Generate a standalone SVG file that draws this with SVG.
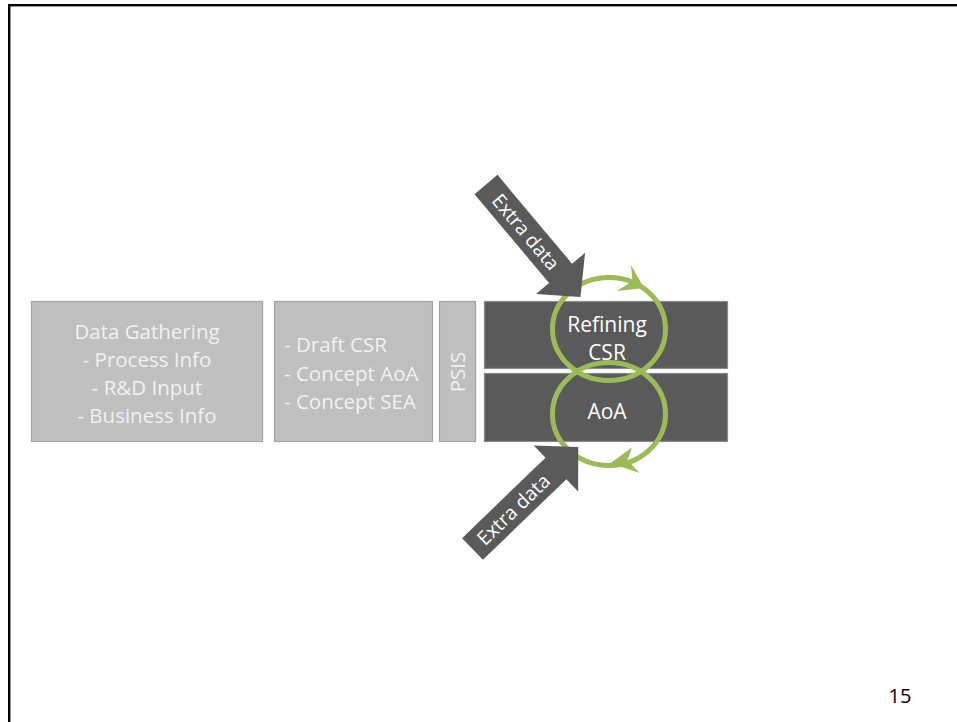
<svg xmlns="http://www.w3.org/2000/svg" width="957" height="722" viewBox="0 0 957 722">
  <defs>
    <style>
      .lbl { font-family: "Open Sans", "Liberation Sans", sans-serif; }
      .light-box { fill: #bfbfbf; stroke: #a3a3a3; stroke-width: 1.2; }
      .light-txt { fill: #f2f2f2; font-size: 20.5px; }
      .dark-box { fill: #5a5a5a; stroke: #8a8a8a; stroke-width: 1.2; }
      .dark-txt { fill: #ffffff; font-size: 21px; text-anchor: middle; }
      .loop { fill: none; stroke: #9bbb59; stroke-width: 5; }
      .loop-head { fill: #9bbb59; }
      .block-arrow { fill: #5a5a5a; }
      .arrow-txt { fill: #ffffff; font-size: 19.5px; text-anchor: middle; }
    </style>
    <!-- block arrow drawn along +x from its tail centre -->
    <polygon id="block-arrow-shape" points="0,-15 116,-15 116,-32 147,0 116,32 116,15 0,15"/>
  </defs>

  <!-- page -->
  <rect x="0" y="0" width="957" height="722" fill="#ffffff"/>
  <rect x="9.2" y="5.2" width="1000" height="800" fill="none" stroke="#000000" stroke-width="2.4"/>

  <!-- process stages -->
  <g id="data-gathering" class="lbl">
    <rect class="light-box" x="31.5" y="301.5" width="231" height="140"/>
    <g class="light-txt" text-anchor="middle">
      <text x="147" y="339">Data Gathering</text>
      <text x="147" y="367">- Process Info</text>
      <text x="147" y="395">- R&amp;D Input</text>
      <text x="147" y="423">- Business Info</text>
    </g>
  </g>

  <g id="concepts" class="lbl">
    <rect class="light-box" x="274.5" y="301.5" width="158" height="140"/>
    <g class="light-txt">
      <text x="284" y="352">- Draft CSR</text>
      <text x="284" y="381">- Concept AoA</text>
      <text x="284" y="409">- Concept SEA</text>
    </g>
  </g>

  <g id="psis" class="lbl">
    <rect class="light-box" x="439.5" y="301.5" width="36" height="140"/>
    <text class="light-txt" text-anchor="middle" transform="translate(465,372) rotate(-90)">PSIS</text>
  </g>

  <g id="refining-csr" class="lbl">
    <rect class="dark-box" x="484.5" y="301.5" width="243" height="67"/>
  </g>

  <g id="aoa" class="lbl">
    <rect class="dark-box" x="484.5" y="373.5" width="243" height="68"/>
  </g>

  <!-- iteration loops -->
  <g id="loops">
    <ellipse class="loop" cx="609" cy="329" rx="56.5" ry="51.5"/>
    <ellipse class="loop" cx="609" cy="414" rx="56.5" ry="51.5"/>
    <polygon class="loop-head" points="631,265 644,288 617,291 632.5,281"/>
    <polygon class="loop-head" points="632,447.5 610.5,463 639.5,473 627.5,460"/>
  </g>

  <!-- loop labels -->
  <g id="loop-labels" class="lbl">
    <text class="dark-txt" x="607" y="332">Refining</text>
    <text class="dark-txt" x="607" y="360">CSR</text>
    <text class="dark-txt" x="607" y="419">AoA</text>
  </g>

  <!-- incoming data -->
  <g id="connectors" class="lbl">
    <g id="extra-data-top" transform="translate(486,184.5) rotate(50)">
      <use href="#block-arrow-shape" class="block-arrow"/>
      <text class="arrow-txt" x="62" y="7">Extra data</text>
    </g>
    <g id="extra-data-bottom" transform="translate(472.5,549) rotate(-44)">
      <use href="#block-arrow-shape" class="block-arrow"/>
      <text class="arrow-txt" x="57" y="7">Extra data</text>
    </g>
  </g>

  <!-- page number -->
  <text id="page-number" class="lbl" x="900" y="703" font-size="20" fill="#000000" text-anchor="middle">15</text>
</svg>
